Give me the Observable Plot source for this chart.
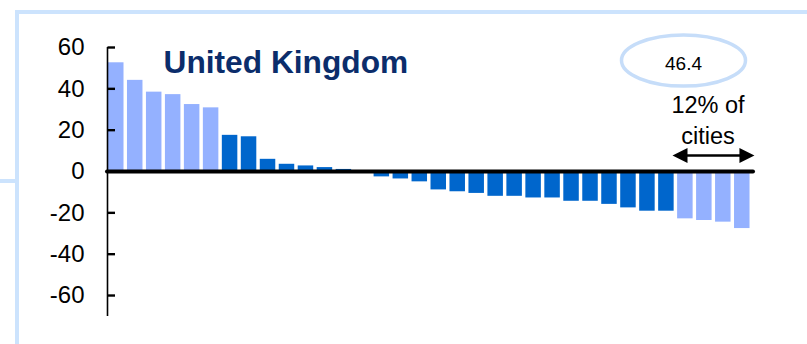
<!DOCTYPE html>
<html>
<head>
<meta charset="utf-8">
<script src="https://cdn.jsdelivr.net/npm/d3@7"></script>
<script src="https://cdn.jsdelivr.net/npm/@observablehq/plot@0.6"></script>
<style>
  html, body { margin: 0; padding: 0; background: #fff; }
  #wrap { position: relative; width: 807px; height: 344px; overflow: hidden; font-family: "Liberation Sans", Arial, sans-serif; }
  .border-main { position: absolute; left: 15px; top: 10px; width: 800px; height: 400px; border-top: 4px solid #CCE3FD; border-left: 4px solid #CCE3FD; }
  .border-stub { position: absolute; left: 0; top: 179px; width: 15px; height: 4px; background: #CCE3FD; }
  #chart { position: absolute; left: 0; top: 0; }
</style>
</head>
<body>
<div id="wrap">
  <div class="border-main"></div>
  <div class="border-stub"></div>
  <div id="chart"></div>
</div>
<script>
// Percentage change per city, sorted from largest increase to largest decrease
const values = [52.6, 44.1, 38.4, 37.2, 32.4, 30.8, 17.5, 16.8, 5.9, 3.5, 2.7, 1.9, 1.0, -0.5,
  -2.6, -3.6, -5.0, -8.9, -9.8, -10.6, -12.0, -12.0, -12.8, -12.8, -14.4, -14.4, -15.9, -17.6,
  -19.2, -19.2, -22.9, -23.7, -24.5, -27.6];
// Highlight group: extreme cities (light) vs the rest (dark)
const groups = ["extreme", "extreme", "extreme", "extreme", "extreme", "extreme",
  "middle", "middle", "middle", "middle", "middle", "middle", "middle", "middle", "middle",
  "middle", "middle", "middle", "middle", "middle", "middle", "middle", "middle", "middle",
  "middle", "middle", "middle", "middle", "middle", "middle",
  "extreme", "extreme", "extreme", "extreme"];
const yTicks = [-60, -40, -20, 0, 20, 40, 60];
const titleText = "United Kingdom";
const bubbleText = "46.4";
const noteLines = ["12% of", "cities"];

const rows = values.map((v, i) => ({rank: i, value: v, group: groups[i]}));

const barWidth = 0.817;
const xDomain = [-0.053, 34.0];

// custom symbols
const ellipseSymbol = {
  draw(ctx) {
    const rx = 62, ry = 25.5, k = 0.5523;
    ctx.moveTo(rx, 0);
    ctx.bezierCurveTo(rx, ry * k, rx * k, ry, 0, ry);
    ctx.bezierCurveTo(-rx * k, ry, -rx, ry * k, -rx, 0);
    ctx.bezierCurveTo(-rx, -ry * k, -rx * k, -ry, 0, -ry);
    ctx.bezierCurveTo(rx * k, -ry, rx, -ry * k, rx, 0);
    ctx.closePath();
  }
};
const tickRight = { draw(ctx) { ctx.moveTo(0, 0); ctx.lineTo(7.5, 0); } };
const headLeft = { draw(ctx) { ctx.moveTo(0, 0); ctx.lineTo(15, -7.5); ctx.lineTo(15, 7.5); ctx.closePath(); } };
const headRight = { draw(ctx) { ctx.moveTo(0, 0); ctx.lineTo(-15, -7.5); ctx.lineTo(-15, 7.5); ctx.closePath(); } };

const arrowY = 7.7;
const arrowX1 = 29.73, arrowX2 = 34.05;

const chart = Plot.plot({
  width: 807,
  height: 344,
  marginLeft: 107,
  marginRight: 54,
  marginTop: 47,
  marginBottom: 28,
  style: { fontFamily: "Liberation Sans, Arial, sans-serif", color: "black", background: "transparent" },
  x: { domain: xDomain, axis: null },
  y: { domain: [-70.15, 60], axis: null },
  color: { domain: ["extreme", "middle"], range: ["#94B1FF", "#0066CC"] },
  marks: [
    Plot.rectY(rows, { x1: "rank", x2: d => d.rank + barWidth, y1: 0, y2: "value", fill: "group", inset: 0 }),
    Plot.ruleX([xDomain[0]], { stroke: "black", strokeWidth: 1.6 }),
    Plot.axisY({ ticks: yTicks, tickSize: 0, tickPadding: 23, fontSize: 24, label: null, tickFormat: d => String(d) }),
    Plot.dot(yTicks, { x: xDomain[0], y: d => d, symbol: tickRight, stroke: "black", strokeWidth: 2.4, fill: "none" }),
    Plot.ruleY([0], { stroke: "black", strokeWidth: 4, strokeLinecap: "round" }),
    Plot.text([titleText], { x: 2.9, y: 52.8, text: d => d, textAnchor: "start", fontSize: 31.7, fontWeight: "bold", fill: "#0B2D6B" }),
    Plot.dot([0], { x: 30.31, y: 53.7, symbol: ellipseSymbol, stroke: "#C6DDF9", strokeWidth: 3.5, fill: "none" }),
    Plot.text([bubbleText], { x: 30.31, y: 52.2, text: d => d, fontSize: 19, fill: "black" }),
    Plot.text([noteLines[0]], { x: 31.6, y: 32.1, text: d => d, fontSize: 23.5, fill: "black" }),
    Plot.text([noteLines[1]], { x: 31.6, y: 17.1, text: d => d, fontSize: 23.5, fill: "black" }),
    Plot.link([0], { x1: arrowX1 + 0.5, x2: arrowX2 - 0.5, y1: arrowY, y2: arrowY, stroke: "black", strokeWidth: 2.5 }),
    Plot.dot([0], { x: arrowX1, y: arrowY, symbol: headLeft, fill: "black", stroke: "none" }),
    Plot.dot([0], { x: arrowX2, y: arrowY, symbol: headRight, fill: "black", stroke: "none" })
  ]
});
document.getElementById("chart").appendChild(chart);
</script>
</body>
</html>
